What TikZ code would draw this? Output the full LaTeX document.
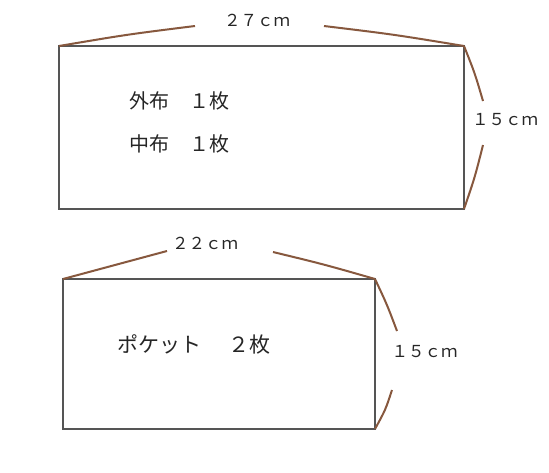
\documentclass[tikz,border=0pt]{standalone}
\usepackage{fontspec}
\setmainfont{Noto Sans CJK JP}
\definecolor{brace}{RGB}{135,88,62}
\definecolor{edge}{RGB}{85,85,85}
\tikzset{
  piece/.style={draw=edge, line width=1.1pt},
  brc/.style={draw=brace, line width=2pt},
  dim/.style={inner sep=0pt, font=\fontsize{16.5}{16.5}\selectfont, text=black!85},
  lbl/.style={inner sep=0pt, anchor=west, font=\fontsize{20}{20}\selectfont, text=black!85},
  lblb/.style={lbl, font=\fontsize{21}{21}\selectfont}
}
\begin{document}
\begin{tikzpicture}[x=1pt,y=-1pt]
\useasboundingbox (0,0) rectangle (549,472);
\fill[white] (0,0) rectangle (549,472);
% piece 1
\coordinate (a1) at (59,46);
\coordinate (b1) at (464,46);
\coordinate (c1) at (464,209);
\coordinate (d1) at (59,209);
\draw[piece] (a1) -- (b1) -- (c1) -- (d1) -- cycle;
\node[dim] (w1) at (257,20) {２７ｃｍ};
\node[dim] (h1) at (505,120) {１５ｃｍ};
\coordinate (t1l) at (195,26);
\coordinate (t1r) at (324,26);
\coordinate (r1u) at (483,101);
\coordinate (r1d) at (483,145);
\draw[brc] (a1) .. controls (127,34.5) .. (t1l);
\draw[brc] (t1r) .. controls (394,34.5) .. (b1);
\draw[brc] (b1) .. controls (474.8,73) .. (r1u);
\draw[brc] (r1d) .. controls (474.8,177.5) .. (c1);
\node[lbl] (t1) at (129,101) {外布\hspace{20pt}１枚};
\node[lbl] (t2) at (129,144) {中布\hspace{20pt}１枚};
% piece 2
\coordinate (a2) at (63,279);
\coordinate (b2) at (375,279);
\coordinate (c2) at (375,429);
\coordinate (d2) at (63,429);
\draw[piece] (a2) -- (b2) -- (c2) -- (d2) -- cycle;
\node[dim] (w2) at (205,243) {２２ｃｍ};
\node[dim] (h2) at (424.5,352) {１５ｃｍ};
\coordinate (t2l) at (167,251);
\coordinate (t2r) at (273,252);
\coordinate (r2u) at (397,331);
\coordinate (r2d) at (392,390);
\draw[brc] (a2) .. controls (115,264.5) .. (t2l);
\draw[brc] (t2r) .. controls (324.5,264.5) .. (b2);
\draw[brc] (b2) .. controls (387,304.5) .. (r2u);
\draw[brc] (r2d) .. controls (385.5,409.8) .. (c2);
\node[lblb] (t3) at (117,344) {ポケット\hspace{27pt}２枚};
\end{tikzpicture}
\end{document}
